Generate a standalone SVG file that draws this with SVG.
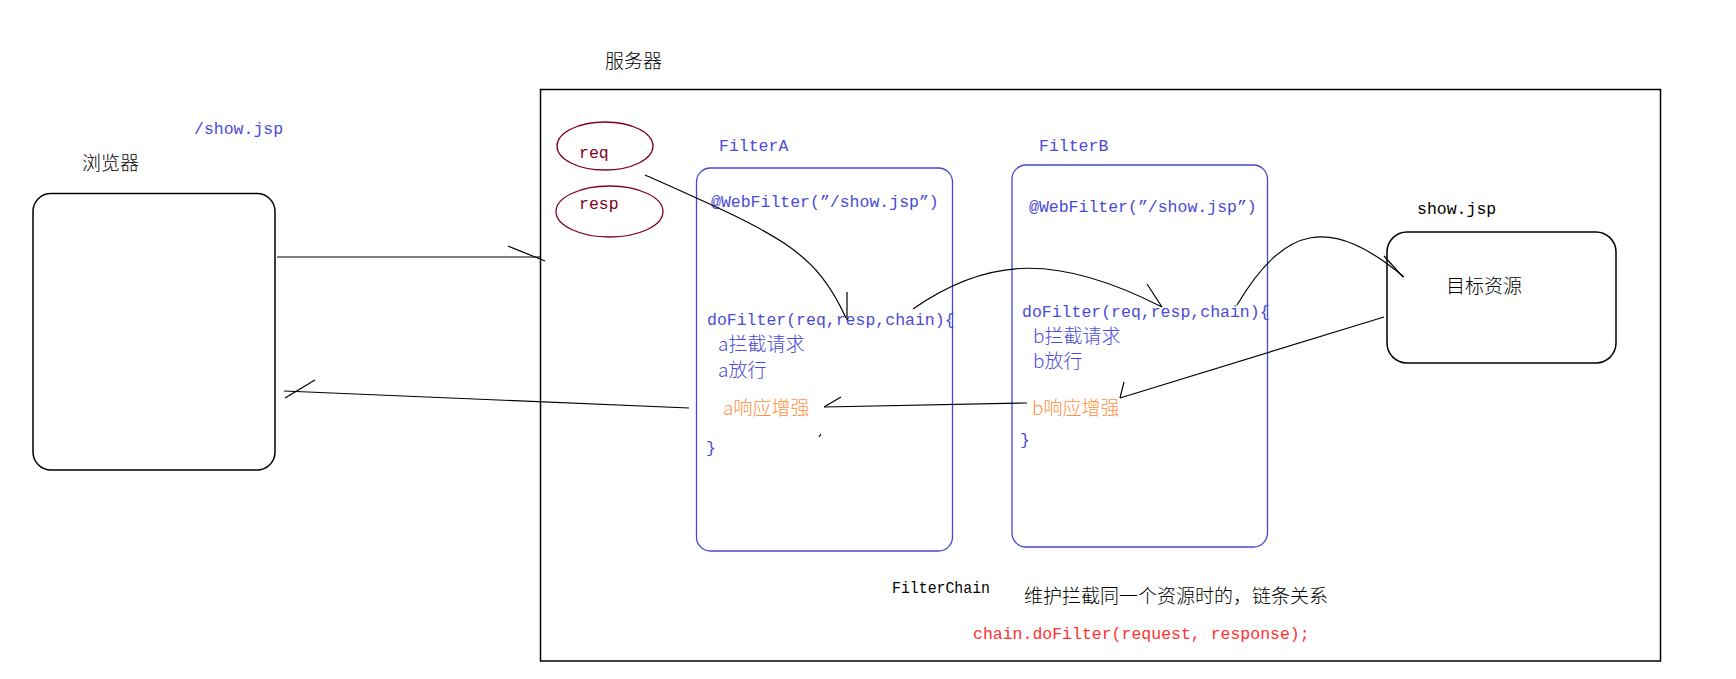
<svg xmlns="http://www.w3.org/2000/svg" width="1736" height="679" viewBox="0 0 1736 679">
<style>
.cn{font-family:"Noto Sans CJK SC","Noto Sans",sans-serif;font-size:19px;font-weight:300}
.mono{font-family:"Liberation Mono","DejaVu Sans Mono",monospace;font-size:16.5px}
.blue{fill:#4a4ad8}
.orange{fill:#ff9040}
.red{fill:#ff3030}
.dred{fill:#800020}
.blk{fill:#000}
.box{fill:none;stroke:#000;stroke-width:1.5}
.fbox{fill:none;stroke:#4048d0;stroke-width:1.3}
.ell{fill:none;stroke:#800020;stroke-width:1.3}
.conn path,.conn line{fill:none;stroke:#000;stroke-width:1.2}
</style>
<rect width="1736" height="679" fill="#fff"/>
<g id="server">
<rect class="box" x="540.5" y="89.5" width="1120" height="571.5"/>
<text class="cn blk" x="605" y="68">服务器</text>
</g>
<g id="browser">
<rect class="box" x="33" y="193.5" width="242" height="276.5" rx="18"/>
<text class="cn blk" x="82" y="170">浏览器</text>
</g>
<g id="url-label">
<text class="mono blue" x="194" y="134" font-size="16.3">/show.jsp</text>
</g>
<g id="req">
<ellipse class="ell" cx="605" cy="146" rx="48" ry="24"/>
<text class="mono dred" x="579" y="158">req</text>
</g>
<g id="resp">
<ellipse class="ell" cx="609.5" cy="211.5" rx="53.5" ry="25.5"/>
<text class="mono dred" x="579" y="209">resp</text>
</g>
<g id="filterA">
<text class="mono blue" x="719" y="151">FilterA</text>
<rect class="fbox" x="696.5" y="168" width="256" height="383" rx="14"/>
<text class="mono blue" x="711" y="207">@WebFilter(”/show.jsp”)</text>
<text class="mono blue" x="707" y="325">doFilter(req,resp,chain){</text>
<text class="cn blue" x="718" y="351">a拦截请求</text>
<text class="cn blue" x="718" y="377">a放行</text>
<text class="cn orange" x="723" y="415">a响应增强</text>
<text class="mono blue" x="706" y="453">}</text>
</g>
<g id="filterB">
<text class="mono blue" x="1039" y="151">FilterB</text>
<rect class="fbox" x="1012" y="165" width="255.5" height="382" rx="14"/>
<text class="mono blue" x="1029" y="212">@WebFilter(”/show.jsp”)</text>
<text class="mono blue" x="1022" y="317">doFilter(req,resp,chain){</text>
<text class="cn blue" x="1033" y="343">b拦截请求</text>
<text class="cn blue" x="1033" y="368">b放行</text>
<text class="cn orange" x="1032" y="415">b响应增强</text>
<text class="mono blue" x="1020" y="445">}</text>
</g>
<g id="target">
<text class="mono blk" x="1417" y="214" font-size="16.3">show.jsp</text>
<rect class="box" x="1387" y="232" width="229" height="131" rx="20"/>
<text class="cn blk" x="1446" y="293">目标资源</text>
</g>
<g id="filterchain">
<text class="mono blk" x="892" y="593" font-size="14.5" textLength="98" lengthAdjust="spacingAndGlyphs">FilterChain</text>
<text class="cn blk" x="1024" y="603" font-size="18">维护拦截同一个资源时的，链条关系</text>
<text class="mono red" x="973" y="639" font-size="14.9">chain.doFilter(request, response);</text>
</g>
<g class="conn" id="connectors">
<line x1="277" y1="257" x2="540" y2="257"/>
<line x1="508" y1="246" x2="545" y2="261"/>
<path d="M645,175 C780,235 815,250 846,318"/>
<line x1="847" y1="292" x2="847" y2="320"/>
<path d="M913,309 C990,255 1060,255 1162,307"/>
<line x1="1147" y1="284" x2="1162" y2="307"/>
<path d="M1237,305 C1285,225 1330,215 1404,277"/>
<line x1="1384" y1="256" x2="1403" y2="277"/>
<line x1="1384" y1="317" x2="1120" y2="398"/>
<line x1="1124" y1="382" x2="1120" y2="398"/>
<line x1="1027" y1="403" x2="824" y2="407"/>
<line x1="841" y1="397" x2="824" y2="407"/>
<line x1="689" y1="408" x2="284" y2="391"/>
<line x1="315" y1="380" x2="285" y2="398"/>
<line x1="819" y1="437" x2="821" y2="434"/>
</g>
</svg>
